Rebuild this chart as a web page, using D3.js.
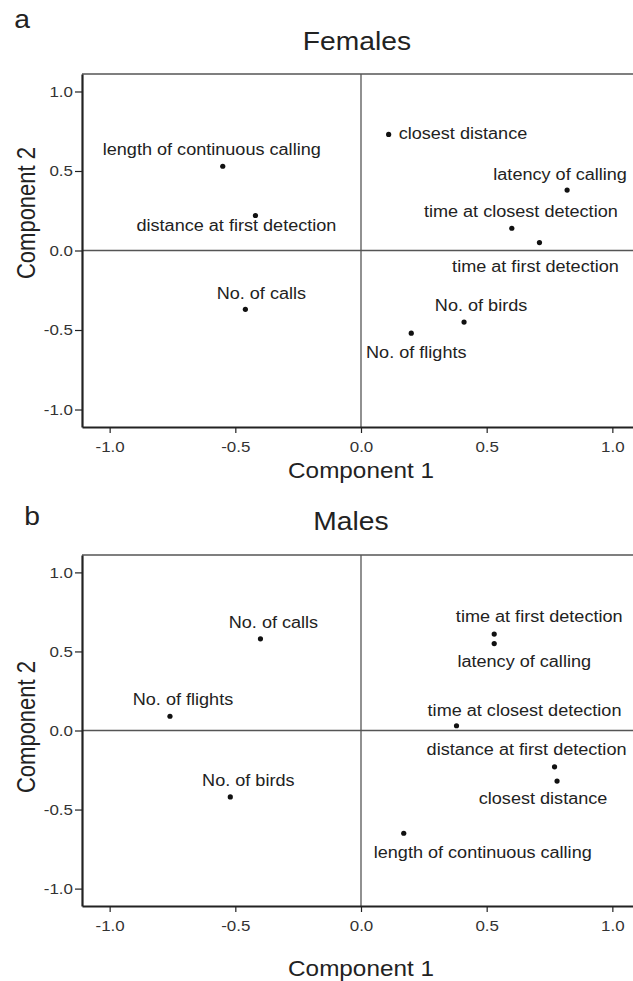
<!DOCTYPE html>
<html>
<head>
<meta charset="utf-8">
<script src="https://cdn.jsdelivr.net/npm/d3@7"></script>
<style>
  body { margin: 0; background: #fff; }
  svg { display: block; font-family: "Liberation Sans", Arial, sans-serif; }
</style>
</head>
<body>
<div id="graph"></div>
<script>
// loadings
const variables = [
    'length of continuous calling', 'distance at first detection', 'No. of calls',
    'closest distance', 'latency of calling', 'time at closest detection',
    'time at first detection', 'No. of birds', 'No. of flights'
];
const femaleC1 = [-0.55, -0.42, -0.46, 0.11, 0.82, 0.60, 0.71, 0.41, 0.20];
const femaleC2 = [0.53, 0.22, -0.37, 0.73, 0.38, 0.14, 0.05, -0.45, -0.52];
const maleC1 = [0.17, 0.77, -0.40, 0.78, 0.53, 0.38, 0.53, -0.52, -0.76];
const maleC2 = [-0.65, -0.23, 0.58, -0.32, 0.55, 0.03, 0.61, -0.42, 0.09];
const tickValues = [-1.0, -0.5, 0.0, 0.5, 1.0];

// where each label sits relative to its dot [dx, dy, anchor]
const femaleLabels = [
    [-11, -11, 'middle'], [-19, 15, 'middle'], [16, -10, 'middle'],
    [10, 5, 'start'], [-7, -10, 'middle'], [9, -11, 'middle'],
    [-4, 29, 'middle'], [17, -11, 'middle'], [5, 25, 'middle']
];
const maleLabels = [
    [79, 25, 'middle'], [-28, -12, 'middle'], [13, -11, 'middle'],
    [-14, 23, 'middle'], [30, 23, 'middle'], [68, -10, 'middle'],
    [45, -12, 'middle'], [18, -11, 'middle'], [13, -11, 'middle']
];

const W = 633, H = 981;
const SX = 1.13; // the printed figure is a bit wider than tall, glyphs too
const svg = d3.select('#graph').append('svg')
    .attr('width', W)
    .attr('height', H);

const fmt = (d) => d.toFixed(1);
const ink = '#222';

const addText = (g, x, y, txt, size, anchor = 'middle', rot = 0) =>
    g.append('text')
        .attr('transform', `translate(${x},${y}) scale(${SX},1)` + (rot ? ` rotate(${rot})` : ''))
        .attr('text-anchor', anchor)
        .attr('font-size', size)
        .attr('fill', ink)
        .text(txt);

const drawPanel = (cfg) => {
    const x = d3.scaleLinear().domain([-1.11, 1.11]).range([82, 640]);
    const y = d3.scaleLinear().domain([-1.11, 1.11]).range([cfg.bottom, cfg.top]);
    const g = svg.append('g');

    addText(g, cfg.letterX, cfg.letterY, cfg.letter, 25);
    addText(g, cfg.titleX, cfg.titleY, cfg.title, 25);

    // top border, thinner
    g.append('line')
        .attr('x1', x(-1.11)).attr('x2', x(1.11))
        .attr('y1', y(1.11)).attr('y2', y(1.11))
        .attr('stroke', '#555').attr('stroke-width', 1.5);

    // reference lines at zero
    g.append('line')
        .attr('x1', x(0)).attr('x2', x(0))
        .attr('y1', y(1.11)).attr('y2', y(-1.11))
        .attr('stroke', '#555').attr('stroke-width', 1.3);
    g.append('line')
        .attr('x1', x(-1.11)).attr('x2', x(1.11))
        .attr('y1', y(0)).attr('y2', y(0))
        .attr('stroke', '#555').attr('stroke-width', 1.3);

    const yAxis = g.append('g')
        .attr('transform', `translate(${x(-1.11)},0)`)
        .call(d3.axisLeft(y).tickValues(tickValues).tickFormat(fmt).tickSize(7).tickSizeOuter(0).tickPadding(2));
    const xAxis = g.append('g')
        .attr('transform', `translate(0,${y(-1.11)})`)
        .call(d3.axisBottom(x).tickValues(tickValues).tickFormat(fmt).tickSize(6).tickSizeOuter(0).tickPadding(8));

    [yAxis, xAxis].forEach((a) => {
        a.select('.domain').attr('stroke', ink).attr('stroke-width', 2.2);
        a.selectAll('.tick line').attr('stroke', ink).attr('stroke-width', 1.2);
        a.selectAll('.tick text')
            .attr('font-size', 15)
            .attr('font-family', '"Liberation Sans", Arial, sans-serif')
            .attr('fill', '#333');
    });
    // stretch tick labels like the rest of the text
    yAxis.selectAll('.tick text')
        .attr('transform', `translate(-9,0) scale(${SX},1)`).attr('x', 0);
    xAxis.selectAll('.tick text')
        .attr('transform', `scale(${SX},1)`);

    addText(g, x(0), cfg.xLabelY, 'Component 1', 21.5);
    addText(g, 35, cfg.yLabelY, 'Component 2', 22, 'middle', -90);

    const pts = variables.map((v, i) => ({ name: v, c1: cfg.c1[i], c2: cfg.c2[i], lab: cfg.labels[i] }));

    g.selectAll('.dot')
        .data(pts)
        .enter().append('circle')
        .attr('class', 'dot')
        .attr('cx', (d) => x(d.c1))
        .attr('cy', (d) => y(d.c2))
        .attr('r', 2.6)
        .attr('fill', '#111');

    g.selectAll('.lab')
        .data(pts)
        .enter().append('text')
        .attr('class', 'lab')
        .attr('transform', (d) => `translate(${x(d.c1) + d.lab[0]},${y(d.c2) + d.lab[1]}) scale(${SX},1)`)
        .attr('text-anchor', (d) => d.lab[2])
        .attr('font-size', 16)
        .attr('fill', ink)
        .text((d) => d.name);
};

drawPanel({
    letter: 'a', letterX: 22, letterY: 28,
    title: 'Females', titleX: 357, titleY: 50,
    top: 74, bottom: 427, xLabelY: 478, yLabelY: 213,
    c1: femaleC1, c2: femaleC2, labels: femaleLabels
});

drawPanel({
    letter: 'b', letterX: 32, letterY: 525,
    title: 'Males', titleX: 351, titleY: 530,
    top: 555, bottom: 906, xLabelY: 976, yLabelY: 727,
    c1: maleC1, c2: maleC2, labels: maleLabels
});
</script>
</body>
</html>
